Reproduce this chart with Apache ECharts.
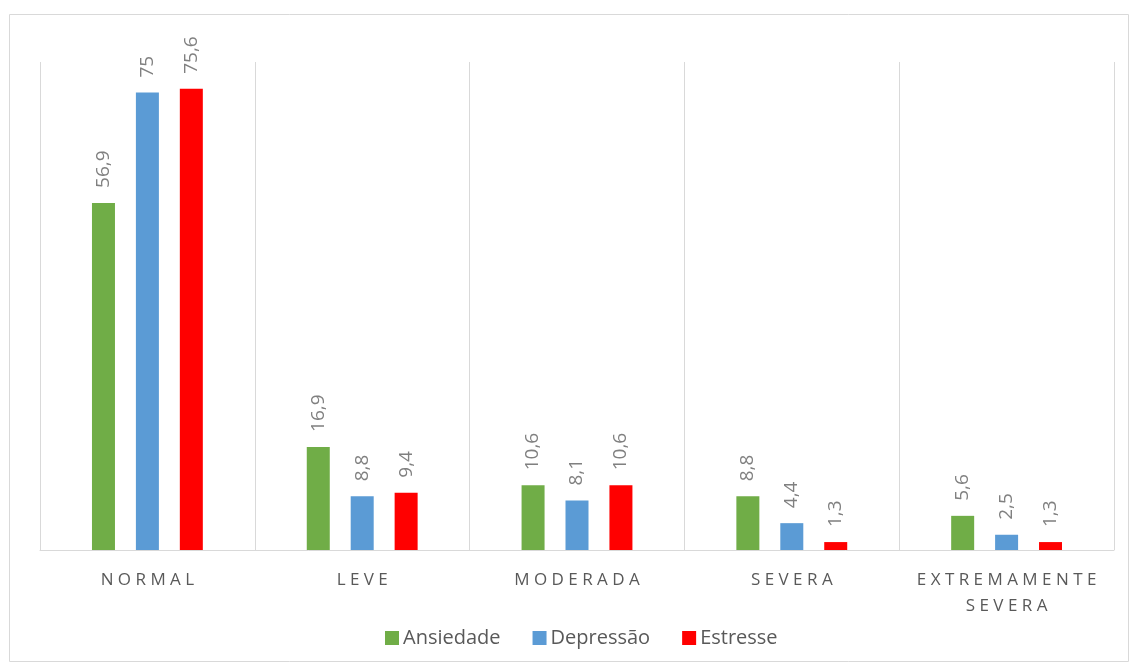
<!DOCTYPE html>
<html>
<head>
<meta charset="utf-8">
<script src="https://cdn.jsdelivr.net/npm/echarts@6/dist/echarts.min.js"></script>
<style>
  html, body { margin: 0; padding: 0; background: #fff; }
  #chart { width: 1130px; height: 666px; }
</style>
</head>
<body>
<div id="chart"></div>
<script>
const categories = ['NORMAL', 'LEVE', 'MODERADA', 'SEVERA', 'EXTREMAMENTE\nSEVERA']
const ansiedade = [56.9, 16.9, 10.6, 8.8, 5.6]
const depressao = [75, 8.8, 8.1, 4.4, 2.5]
const estresse = [75.6, 9.4, 10.6, 1.3, 1.3]

const chart = echarts.init(document.getElementById('chart'))

const spaced = (s) => s.split('\n').map(line => line.split('').join(' ')).join('\n')
const fmt = (p) => String(p.value).replace('.', ',')

const labelStyle = {
  show: true,
  position: 'top',
  rotate: 90,
  align: 'left',
  verticalAlign: 'middle',
  distance: 15,
  color: '#808080',
  fontSize: 19,
  fontFamily: 'Open Sans',
  formatter: fmt
}

const makeSeries = (name, data, color) => ({
  name,
  type: 'bar',
  data,
  barWidth: 23,
  barGap: '91%',
  itemStyle: { color },
  label: labelStyle
})

chart.setOption({
  animation: false,
  textStyle: { fontFamily: 'Open Sans' },
  graphic: [{
    type: 'rect',
    shape: { x: 9.5, y: 14.5, width: 1119, height: 647 },
    style: { fill: 'none', stroke: '#d9d9d9', lineWidth: 1 },
    silent: true
  }],
  legend: {
    top: 623,
    left: 380,
    itemWidth: 14,
    itemHeight: 14,
    itemGap: 32,
    icon: 'rect',
    textStyle: { color: '#595959', fontSize: 20, fontFamily: 'Open Sans', padding: [0, 0, 0, -1] },
    data: ['Ansiedade', 'Depressão', 'Estresse']
  },
  grid: { left: 40, right: 16, top: 62, bottom: 116 },
  xAxis: {
    type: 'category',
    data: categories,
    axisTick: { show: false },
    axisLine: { lineStyle: { color: '#d9d9d9', width: 1 } },
    splitLine: { show: true, lineStyle: { color: '#d9d9d9', width: 1 } },
    axisLabel: {
      color: '#595959',
      fontSize: 17,
      fontFamily: 'Open Sans',
      margin: 17,
      lineHeight: 26,
      interval: 0,
      formatter: spaced
    }
  },
  yAxis: {
    type: 'value',
    min: 0,
    max: 80,
    show: false,
    splitLine: { show: false }
  },
  series: [
    makeSeries('Ansiedade', ansiedade, '#70ad47'),
    makeSeries('Depressão', depressao, '#5b9bd5'),
    makeSeries('Estresse', estresse, '#ff0000')
  ]
})
</script>
</body>
</html>
